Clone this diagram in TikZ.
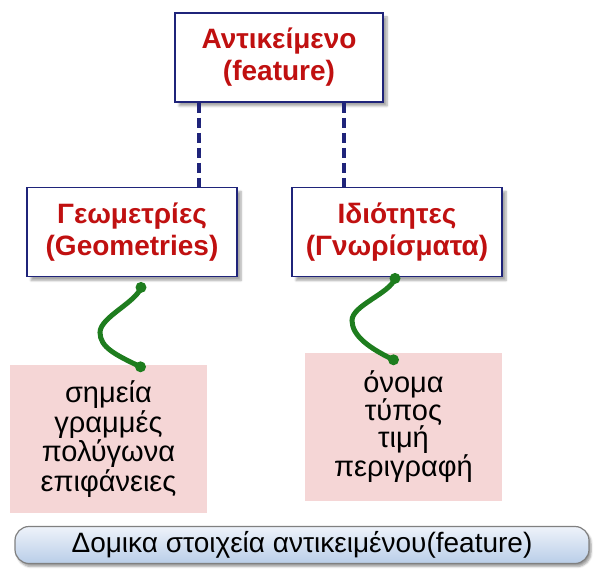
\documentclass[tikz,border=0pt]{standalone}
\usepackage{fontspec}
\setmainfont{Liberation Sans}
\usetikzlibrary{shadows.blur}

\definecolor{boxblue}{RGB}{31,36,122}
\definecolor{titlered}{RGB}{192,16,16}
\definecolor{leafpink}{RGB}{245,214,214}
\definecolor{linkgreen}{RGB}{30,125,30}
\definecolor{bandtop}{RGB}{238,243,250}
\definecolor{bandbot}{RGB}{185,205,232}

\begin{document}
\begin{tikzpicture}[x=1pt, y=-1pt,
  entity/.style={draw=boxblue, line width=1.8pt, fill=white, minimum width=208pt, minimum height=89pt,
    align=center, font=\fontsize{28}{32}\selectfont\bfseries, text=titlered,
    blur shadow={shadow xshift=4pt, shadow yshift=-4pt, shadow blur steps=6, shadow opacity=35}},
  leaf/.style={fill=leafpink, minimum width=197pt, minimum height=148pt, align=center,
    font=\fontsize{29}{29.5}\selectfont},
  band/.style={draw=gray, line width=1.2pt, rounded corners=14pt, top color=bandtop, bottom color=bandbot,
    minimum width=574pt, minimum height=37pt, font=\fontsize{28}{30}\selectfont,
    blur shadow={shadow xshift=2pt, shadow yshift=-3pt, shadow blur steps=5, shadow opacity=40}},
  dashlink/.style={draw=boxblue, line width=4.5pt, dash pattern=on 10pt off 5pt},
  twist/.style={draw=linkgreen, line width=5pt, line cap=round},
  knob/.style={circle, fill=linkgreen, inner sep=0pt, minimum size=11pt}]
  \useasboundingbox (0,0) rectangle (596,572);

  \node[entity] (feature) at (279,57.5) {Αντικείμενο\\(feature)};
  \node[entity, minimum width=210pt] (geom) at (132,232) {Γεωμετρίες\\(Geometries)};
  \node[entity, minimum width=210pt] (attr) at (397,232) {Ιδιότητες\\(Γνωρίσματα)};

  \node[leaf] (shapes) at (108.5,439) {σημεία\\γραμμές\\πολύγωνα\\επιφάνειες};
  \node[leaf, font=\fontsize{29}{27.5}\selectfont] (fields) at (403.5,427) {όνομα\\τύπος\\τιμή\\περιγραφή};

  \node[band] (caption) at (302,545) {Δομικα στοιχεία αντικειμένου(feature)};

  \path[dashlink]
  ([xshift=25pt]feature.south west) edge ([xshift=25pt]feature.south west |- geom.north)
  ([xshift=-40pt]feature.south east) edge ([xshift=-40pt]feature.south east |- attr.north)
  ;

  \coordinate (gtop) at ([xshift=9pt,yshift=-10pt]geom.south);
  \coordinate (gbot) at ([xshift=32pt,yshift=-2pt]shapes.north);
  \coordinate (atop) at ([xshift=-2pt,yshift=-1pt]attr.south);
  \coordinate (abot) at ([xshift=-10pt,yshift=-7pt]fields.north);

  \draw[twist] (gtop) .. controls +(-5,15) and +(0,-15) .. ++(-41,45)
    .. controls +(0,15) and +(-25,-12) .. (gbot);
  \draw[twist] (atop) .. controls +(-5,15) and +(0,-15) .. ++(-43,42)
    .. controls +(0,15) and +(-25,-12) .. (abot);
  \foreach \p in {gtop,gbot,atop,abot}
    \node[knob] at (\p) {};
\end{tikzpicture}
\end{document}
